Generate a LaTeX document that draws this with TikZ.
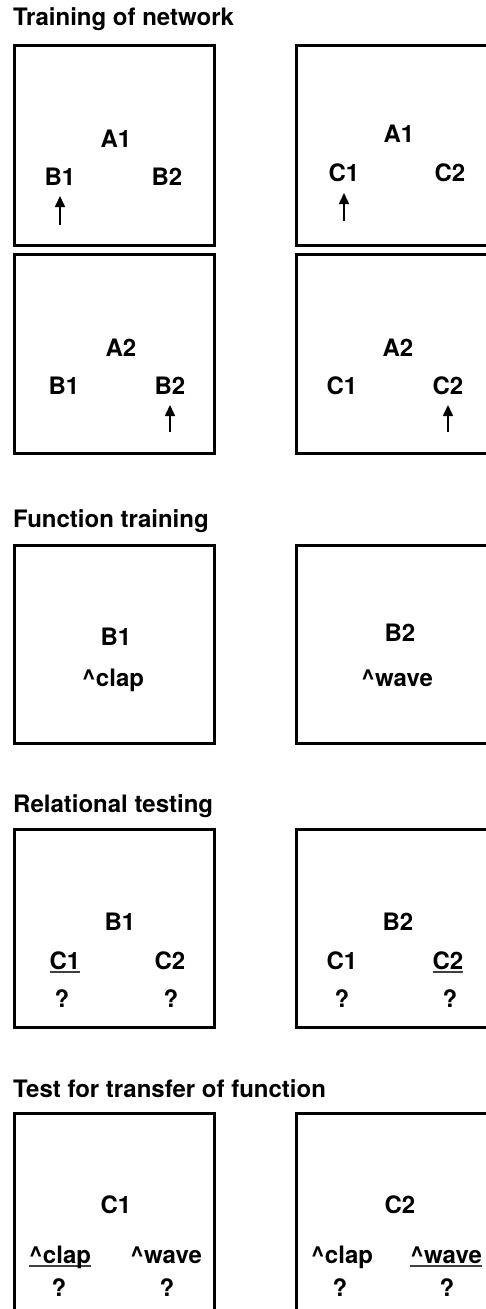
\documentclass[tikz,border=0pt]{standalone}
\usepackage{fontspec}
\setmainfont{TeX Gyre Heros}
\usetikzlibrary{arrows.meta}
\newcommand{\ulx}[1]{{\setbox0\hbox{#1}\rlap{\raisebox{-3.5pt}{\color{darkgray}\rule{\wd0}{1.3pt}}}\box0}}
\tikzset{
  panel/.style={draw=black, line width=3pt},
  lbl/.style={font=\fontsize{24}{28}\selectfont\bfseries, anchor=base, inner sep=0pt},
  ttl/.style={font=\fontsize{24}{28}\selectfont\bfseries, anchor=base west, inner sep=0pt},
  pointer/.style={-{Triangle[length=11pt,width=10pt]}, line width=1.6pt}
}
\begin{document}
\begin{tikzpicture}[x=1pt,y=-1pt]
\useasboundingbox (0,0) rectangle (486,1309);
\fill[white] (0,0) rectangle (486,1309);

% ---------- Training of network ----------
\node[ttl] (t1) at (13,25) {Training of network};
\draw[panel] (14.5,45.5) rectangle (214.5,245.5);
\draw[panel] (296.5,45.5) rectangle (496.5,245.5);
\draw[panel] (14.5,254.5) rectangle (214.5,453.5);
\draw[panel] (296.5,254.5) rectangle (496.5,453.5);

\node[lbl] (a1l) at (116,147) {A1};
\node[lbl] (b1a) at (60,185) {B1};
\node[lbl] (b2a) at (167,185) {B2};
\coordinate (p1) at (60,225);
\draw[pointer] (p1) -- (60,196);

\node[lbl] (a1r) at (399,142) {A1};
\node[lbl] (c1a) at (344,181) {C1};
\node[lbl] (c2a) at (450,181) {C2};
\coordinate (p2) at (344,221);
\draw[pointer] (p2) -- (344,193);

\node[lbl] (a2l) at (121,356) {A2};
\node[lbl] (b1b) at (64,394) {B1};
\node[lbl] (b2b) at (170,394) {B2};
\coordinate (p3) at (170,432);
\draw[pointer] (p3) -- (170,405);

\node[lbl] (a2r) at (398,356) {A2};
\node[lbl] (c1b) at (342,394) {C1};
\node[lbl] (c2b) at (448,394) {C2};
\coordinate (p4) at (448,432);
\draw[pointer] (p4) -- (448,405);

% ---------- Function training ----------
\node[ttl] (t2) at (13,527) {Function training};
\draw[panel] (14.5,545.5) rectangle (214.5,743.5);
\draw[panel] (296.5,545.5) rectangle (496.5,743.5);
\node[lbl] (fb1) at (116,645) {B1};
\node[lbl] (fclap) at (113,686) {\textasciicircum clap};
\node[lbl] (fb2) at (400,641) {B2};
\node[lbl] (fwave) at (397,686) {\textasciicircum wave};

% ---------- Relational testing ----------
\node[ttl] (t3) at (13,812) {Relational testing};
\draw[panel] (14.5,829.5) rectangle (214.5,1027.5);
\draw[panel] (296.5,829.5) rectangle (496.5,1027.5);
\node[lbl] (rb1) at (120,930) {B1};
\node[lbl] (rc1l) at (65,969) {\ulx{C1}};
\node[lbl] (rc2l) at (170,969) {C2};
\node[lbl] (rq1) at (62,1007) {?};
\node[lbl] (rq2) at (171,1007) {?};
\node[lbl] (rb2) at (398,930) {B2};
\node[lbl] (rc1r) at (342,969) {C1};
\node[lbl] (rc2r) at (448,969) {\ulx{C2}};
\node[lbl] (rq3) at (342,1007) {?};
\node[lbl] (rq4) at (450,1007) {?};

% ---------- Test for transfer of function ----------
\node[ttl] (t4) at (13,1097) {Test for transfer of function};
\draw[panel] (14.5,1113.5) rectangle (214.5,1313.5);
\draw[panel] (296.5,1113.5) rectangle (496.5,1313.5);
\node[lbl] (tc1) at (116,1213) {C1};
\node[lbl] (tclapl) at (60,1263) {\ulx{\textasciicircum clap}};
\node[lbl] (twavel) at (166,1263) {\textasciicircum wave};
\node[lbl] (tq1) at (59,1296) {?};
\node[lbl] (tq2) at (167,1296) {?};
\node[lbl] (tc2) at (400,1213) {C2};
\node[lbl] (tclapr) at (342,1263) {\textasciicircum clap};
\node[lbl] (twaver) at (446,1263) {\ulx{\textasciicircum wave}};
\node[lbl] (tq3) at (340,1296) {?};
\node[lbl] (tq4) at (447,1296) {?};
\end{tikzpicture}
\end{document}
